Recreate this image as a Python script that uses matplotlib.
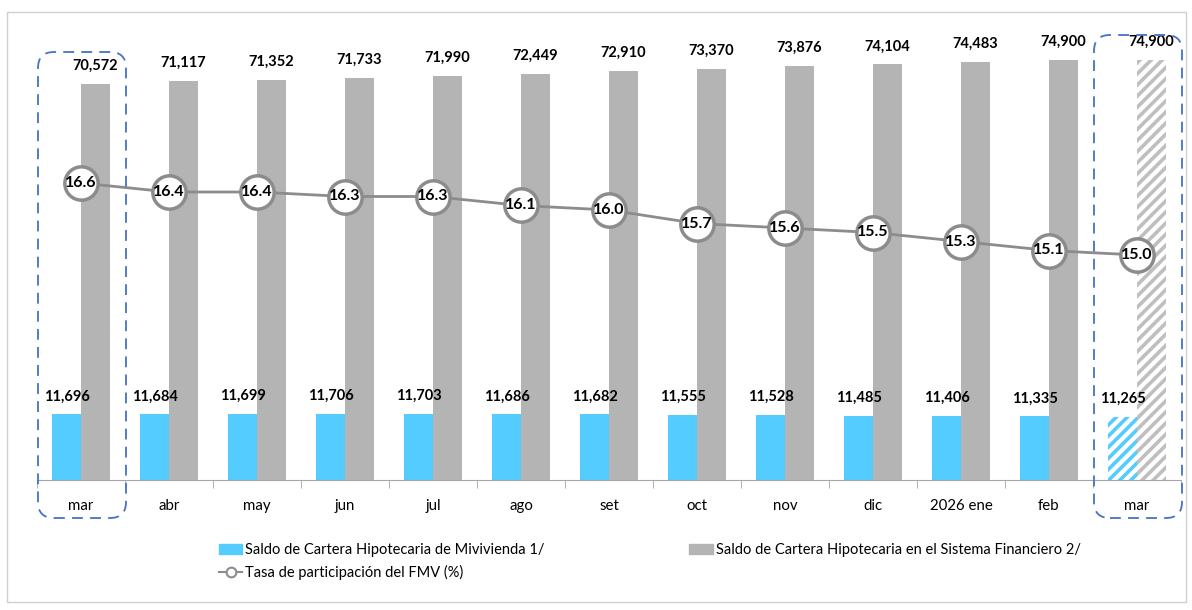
import matplotlib.pyplot as plt
import numpy as np
from matplotlib.patches import FancyBboxPatch, Rectangle, Patch
from matplotlib.lines import Line2D
from matplotlib.transforms import IdentityTransform

plt.rcParams['font.family'] = ['Lato', 'DejaVu Sans']
plt.rcParams['hatch.linewidth'] = 2.6

# data
months = ['mar', 'abr', 'may', 'jun', 'jul', 'ago', 'set', 'oct', 'nov', 'dic', '2026 ene', 'feb', 'mar']
mivivienda = [11696, 11684, 11699, 11706, 11703, 11686, 11682, 11555, 11528, 11485, 11406, 11335, 11265]
sistema = [70572, 71117, 71352, 71733, 71990, 72449, 72910, 73370, 73876, 74104, 74483, 74900, 74900]
tasa = [16.6, 16.4, 16.4, 16.3, 16.3, 16.1, 16.0, 15.7, 15.6, 15.5, 15.3, 15.1, 15.0]

blue = '#55CCFF'
gray = '#B4B4B4'
line_gray = '#8C8C8C'

W, H = 1192, 610
fig = plt.figure(figsize=(W / 100, H / 100), dpi=100)
ax = fig.add_axes([37 / W, 130 / H, 1144 / W, 450 / H])

x = np.arange(len(months))
bw = 0.33
n_real = len(months) - 1

# real bars
b1 = ax.bar(x[:n_real] - bw / 2, mivivienda[:n_real], bw, color=blue, zorder=2)
b2 = ax.bar(x[:n_real] + bw / 2, sistema[:n_real], bw, color=gray, zorder=2)
# projected month, hatched
b1p = ax.bar(x[n_real:] - bw / 2, mivivienda[n_real:], bw, facecolor='white',
             edgecolor=blue, linewidth=0, hatch='///', zorder=2)
b2p = ax.bar(x[n_real:] + bw / 2, sistema[n_real:], bw, facecolor='white',
             edgecolor='#BFBFBF', linewidth=0, hatch='///', zorder=2)

for bars in [b1, b2, b1p, b2p]:
    ax.bar_label(bars, fmt='{:,.0f}', padding=8, fontsize=10.5, fontweight='bold')

ax.set_xlim(-0.5, len(months) - 0.5)
ax.set_ylim(0, 80245)
ax.set_yticks([])
for s in ['left', 'right', 'top']:
    ax.spines[s].set_visible(False)
ax.spines['bottom'].set_color('#A6A6A6')
ax.set_xticks(x)
ax.set_xticklabels(months, fontsize=10.8)
ax.tick_params(axis='x', which='major', length=0, pad=14)
ax.set_xticks(np.arange(-0.5, len(months)), minor=True)
ax.tick_params(axis='x', which='minor', length=6, color='#A6A6A6')

# participation rate on a secondary axis
ax2 = ax.twinx()
ax2.set_ylim(10, 20)
ax2.axis('off')
ax2.plot(x, tasa, color=line_gray, lw=2, marker='o', markersize=24,
         markerfacecolor='white', markeredgecolor=line_gray, markeredgewidth=2.5)
for xi, v in zip(x, tasa):
    ax2.text(xi, v, f'{v:.1f}', ha='center', va='center', fontsize=11.5, fontweight='bold')

# outer border
fig.patches.append(Rectangle((7 / W, 8 / H), 1179 / W, 590 / H, transform=fig.transFigure,
                             fill=False, edgecolor='#D0D0D0', lw=1))

# dashed highlight boxes around first and last month
fig.canvas.draw()
for i, top in [(0, 52), (len(months) - 1, 35)]:
    x0 = ax.transData.transform((i - 0.5, 0))[0] + 1
    x1 = ax.transData.transform((i + 0.5, 0))[0] + 1
    y0 = H - 518
    y1 = H - top
    box = FancyBboxPatch((x0, y0), x1 - x0, y1 - y0,
                         boxstyle='round,pad=0,rounding_size=16',
                         transform=IdentityTransform(), fill=False,
                         edgecolor='#4472C4', lw=1.3, linestyle=(0, (6, 4)))
    fig.patches.append(box)

handles = [Patch(color=blue),
           Line2D([], [], color=line_gray, lw=1.5, marker='o', markersize=7,
                  markerfacecolor='white', markeredgecolor=line_gray, markeredgewidth=1.5),
           Patch(color=gray)]
labels = ['Saldo de Cartera Hipotecaria de Mivivienda 1/',
          'Tasa de participación del FMV (%)',
          'Saldo de Cartera Hipotecaria en el Sistema Financiero 2/']
fig.legend(handles, labels, ncol=2, frameon=False, fontsize=10.5,
           loc='upper left', bbox_to_anchor=(206 / W, 1 - 530 / H),
           handlelength=1.6, handletextpad=0.2, columnspacing=9.9, labelspacing=0.55)

fig.savefig('out.png', dpi=100)
